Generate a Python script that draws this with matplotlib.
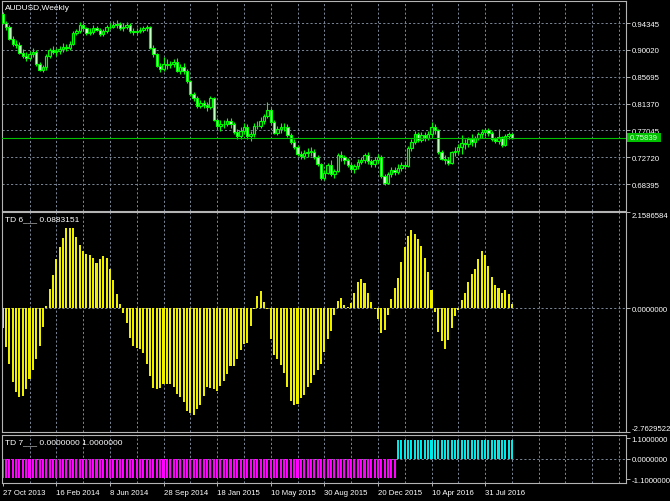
import matplotlib
matplotlib.use('Agg')
import matplotlib.pyplot as plt
from matplotlib.patches import Rectangle
import numpy as np

# ---------------- DATA ----------------
symbol_title = "AUDUSD,Weekly"
opens = [0.958,0.944,0.937,0.918,0.910,0.908,0.896,0.891,0.887,0.893,
         0.897,0.877,0.868,0.872,0.891,0.900,0.897,0.898,0.902,0.905,
         0.903,0.910,0.928,0.930,0.940,0.935,0.928,0.929,0.936,0.933,
         0.926,0.930,0.937,0.938,0.941,0.942,0.935,0.938,0.941,0.930,
         0.929,0.931,0.933,0.935,0.937,0.904,0.893,0.875,0.870,0.878,
         0.876,0.877,0.881,0.867,0.872,0.866,0.850,0.829,0.822,0.810,
         0.814,0.812,0.808,0.822,0.788,0.777,0.780,0.781,0.786,0.780,
         0.768,0.762,0.770,0.776,0.761,0.764,0.778,0.777,0.786,0.793,
         0.804,0.784,0.767,0.772,0.776,0.776,0.763,0.752,0.744,0.733,
         0.729,0.734,0.736,0.736,0.728,0.716,0.693,0.702,0.715,0.700,
         0.705,0.731,0.727,0.722,0.715,0.709,0.713,0.720,0.723,0.730,
         0.721,0.716,0.722,0.728,0.697,0.686,0.700,0.707,0.703,0.710,
         0.714,0.713,0.742,0.752,0.765,0.755,0.763,0.759,0.765,0.776,
         0.771,0.735,0.725,0.722,0.718,0.735,0.737,0.744,0.750,0.748,
         0.756,0.752,0.759,0.764,0.768,0.771,0.766,0.757,0.753,0.760,
         0.747,0.762,0.765]
highs = [0.961,0.947,0.941,0.922,0.916,0.913,0.901,0.897,0.898,0.903,
         0.900,0.881,0.876,0.893,0.904,0.906,0.903,0.907,0.911,0.910,
         0.914,0.930,0.934,0.946,0.944,0.938,0.935,0.940,0.939,0.936,
         0.934,0.940,0.944,0.947,0.948,0.946,0.943,0.946,0.944,0.935,
         0.936,0.937,0.939,0.941,0.939,0.908,0.896,0.879,0.889,0.885,
         0.882,0.886,0.888,0.877,0.879,0.869,0.852,0.833,0.826,0.820,
         0.819,0.817,0.826,0.825,0.791,0.788,0.787,0.791,0.790,0.784,
         0.772,0.776,0.783,0.780,0.769,0.783,0.786,0.792,0.797,0.816,
         0.806,0.787,0.778,0.782,0.783,0.781,0.766,0.756,0.747,0.738,
         0.739,0.742,0.743,0.741,0.731,0.718,0.706,0.718,0.722,0.708,
         0.734,0.737,0.731,0.726,0.718,0.716,0.724,0.728,0.734,0.736,
         0.725,0.727,0.733,0.730,0.700,0.704,0.712,0.712,0.716,0.720,
         0.721,0.746,0.756,0.770,0.768,0.768,0.768,0.770,0.784,0.781,
         0.773,0.739,0.730,0.727,0.738,0.744,0.749,0.763,0.756,0.760,
         0.764,0.762,0.768,0.772,0.775,0.774,0.770,0.760,0.773,0.762,
         0.765,0.768,0.767]
lows = [0.942,0.932,0.916,0.907,0.903,0.894,0.887,0.882,0.884,0.889,
        0.875,0.866,0.864,0.868,0.888,0.893,0.890,0.893,0.897,0.899,
        0.900,0.908,0.924,0.928,0.931,0.925,0.924,0.926,0.930,0.922,
        0.922,0.927,0.934,0.935,0.936,0.932,0.931,0.934,0.927,0.925,
        0.926,0.927,0.929,0.930,0.902,0.889,0.872,0.865,0.866,0.870,
        0.871,0.873,0.864,0.862,0.862,0.847,0.826,0.818,0.806,0.806,
        0.807,0.802,0.805,0.785,0.773,0.770,0.774,0.777,0.775,0.765,
        0.756,0.757,0.765,0.757,0.753,0.760,0.772,0.774,0.781,0.790,
        0.780,0.764,0.763,0.767,0.770,0.760,0.748,0.740,0.729,0.724,
        0.725,0.727,0.729,0.724,0.713,0.690,0.690,0.700,0.697,0.694,
        0.703,0.721,0.716,0.711,0.704,0.701,0.708,0.716,0.718,0.717,
        0.711,0.712,0.718,0.694,0.683,0.684,0.696,0.699,0.700,0.705,
        0.709,0.711,0.738,0.748,0.751,0.752,0.753,0.755,0.760,0.764,
        0.732,0.722,0.717,0.714,0.716,0.729,0.733,0.733,0.741,0.744,
        0.746,0.744,0.755,0.759,0.761,0.761,0.753,0.750,0.749,0.744,
        0.745,0.756,0.756]
closes = [0.944,0.937,0.918,0.910,0.908,0.896,0.891,0.887,0.893,0.897,
          0.877,0.868,0.872,0.891,0.900,0.897,0.898,0.902,0.905,0.903,
          0.910,0.928,0.930,0.940,0.935,0.928,0.929,0.936,0.933,0.926,
          0.930,0.937,0.938,0.941,0.942,0.935,0.938,0.941,0.930,0.929,
          0.931,0.933,0.935,0.937,0.904,0.893,0.875,0.870,0.878,0.876,
          0.877,0.881,0.867,0.872,0.866,0.850,0.829,0.822,0.810,0.814,
          0.812,0.808,0.822,0.788,0.777,0.780,0.781,0.786,0.780,0.768,
          0.762,0.770,0.776,0.761,0.764,0.778,0.777,0.786,0.793,0.804,
          0.784,0.767,0.772,0.776,0.776,0.763,0.752,0.744,0.733,0.729,
          0.734,0.736,0.736,0.728,0.716,0.693,0.702,0.715,0.700,0.705,
          0.731,0.727,0.722,0.715,0.709,0.713,0.720,0.723,0.730,0.721,
          0.716,0.722,0.728,0.697,0.686,0.700,0.707,0.703,0.710,0.714,
          0.713,0.742,0.752,0.765,0.755,0.763,0.759,0.765,0.776,0.771,
          0.735,0.725,0.722,0.718,0.735,0.737,0.744,0.750,0.748,0.756,
          0.752,0.759,0.764,0.768,0.771,0.766,0.757,0.753,0.760,0.747,
          0.762,0.765,0.75839]
bid_price = 0.75839
price_ticks = [0.94345, 0.90020, 0.85695, 0.81370, 0.77045, 0.72720, 0.68395]

td6_values = [-0.44,-0.87,-1.25,-1.64,-1.88,-1.98,-1.97,-1.81,-1.59,-1.37,
              -1.13,-0.84,-0.43,0.04,0.42,0.75,1.09,1.36,1.57,1.78,
              1.78,1.80,1.59,1.42,1.28,1.22,1.19,1.11,1.02,1.10,
              1.17,1.13,0.87,0.63,0.31,0.10,-0.11,-0.33,-0.67,-0.84,
              -0.88,-0.91,-0.99,-1.24,-1.51,-1.79,-1.81,-1.78,-1.69,-1.69,
              -1.69,-1.75,-1.92,-1.98,-2.09,-2.29,-2.34,-2.39,-2.26,-2.15,
              -1.95,-1.75,-1.78,-1.81,-1.85,-1.73,-1.63,-1.47,-1.28,-1.28,
              -1.13,-0.93,-0.80,-0.77,-0.40,-0.02,0.27,0.39,0.13,-0.01,
              -0.69,-1.05,-1.14,-1.26,-1.45,-1.75,-2.07,-2.17,-2.13,-2.01,
              -1.94,-1.75,-1.66,-1.50,-1.37,-1.24,-0.97,-0.69,-0.50,-0.16,
              0.17,0.22,0.08,0.02,0.11,0.33,0.58,0.65,0.56,0.33,
              0.13,-0.01,-0.25,-0.55,-0.48,-0.16,0.20,0.46,0.68,1.04,
              1.36,1.62,1.74,1.65,1.55,1.38,1.13,0.80,0.40,-0.08,
              -0.52,-0.74,-0.90,-0.71,-0.44,-0.17,-0.04,0.18,0.34,0.58,
              0.77,0.87,1.09,1.27,1.19,0.94,0.70,0.52,0.45,0.34,
              0.40,0.31,0.0883151]
td6_label = "TD 6___ 0.0883151"
td6_ticks = [2.1586584, 0.0, -2.7629522]
td6_tick_labels = ["2.1586584", "0.0000000", "-2.7629522"]

# TD 7: run-length encoded (value, number of weekly bars)
td7_runs = [(-1.0, 118), (1.0, 35)]
td7_label = "TD 7___ 0.0000000 1.0000000"
td7_ticks = [1.1, 0.0, -1.1]
td7_tick_labels = ["1.1000000", "0.0000000", "-1.1000000"]

date_labels = ["27 Oct 2013", "16 Feb 2014", "8 Jun 2014", "28 Sep 2014",
               "18 Jan 2015", "10 May 2015", "30 Aug 2015", "20 Dec 2015",
               "10 Apr 2016", "31 Jul 2016"]
date_label_bars = [0, 16, 32, 48, 64, 80, 96, 112, 128, 144]
grid_every = 8

# ---------------- STYLE ----------------
W, H = 670, 502
BG = 'black'
GRID = '#7a8696'
FRAME = '#b4b4b4'
FONT = 'Liberation Sans'
FS = 5.6
plt.rcParams['font.family'] = [FONT, 'DejaVu Sans']

fig = plt.figure(figsize=(W / 100, H / 100), dpi=100, facecolor=BG)

def ax_at(x0, y0, x1, y1):
    a = fig.add_axes([x0 / W, 1 - y1 / H, (x1 - x0) / W, (y1 - y0) / H])
    a.set_facecolor(BG)
    for s in a.spines.values():
        s.set_color(FRAME)
        s.set_linewidth(0.8)
    return a

ax1 = ax_at(1.7, 2, 626, 211.5)
ax2 = ax_at(1.7, 212.5, 626, 433)
ax3 = ax_at(1.7, 435.5, 626, 484)

n = len(closes)
x = np.arange(n)
xlim = (-0.3, 186.06)
grid_x = np.arange(grid_every, xlim[1], grid_every)

for a in (ax1, ax2, ax3):
    a.set_xlim(*xlim)
    for gx in grid_x:
        a.axvline(gx, color=GRID, lw=0.7, ls=(0, (2.2, 2.2)), zorder=0)
    a.yaxis.tick_right()
    a.tick_params(axis='y', direction='out', length=3, width=0.7,
                  colors=FRAME, labelcolor='white', labelsize=FS, pad=1.2)
    a.tick_params(axis='x', bottom=False, labelbottom=False)

# ---- price pane ----
o = np.array(opens); h = np.array(highs); l = np.array(lows); c = np.array(closes)
ax1.set_ylim(0.64126, 0.97919)
for p in price_ticks:
    ax1.axhline(p, color=GRID, lw=0.7, ls=(0, (2.2, 2.2)), zorder=0)
ax1.vlines(x, l, h, color='#00ff00', lw=0.8, zorder=2)
bull = c >= o
body_lo = np.minimum(o, c)
body_h = np.maximum(np.abs(c - o), 0.0006)
ax1.bar(x[bull], body_h[bull], bottom=body_lo[bull], width=0.7,
        facecolor='#002a00', edgecolor='#00ff00', lw=0.8, zorder=3)
ax1.bar(x[~bull], body_h[~bull], bottom=body_lo[~bull], width=0.7,
        facecolor='#d8ffd8', edgecolor='#00ff00', lw=0.8, zorder=3)
ax1.axhline(bid_price, color='#00c000', lw=0.8, zorder=4)
ax1.set_yticks(price_ticks)
ax1.set_yticklabels([f"{p:.5f}" for p in price_ticks])

# ---- TD 6 pane ----
ax2.set_ylim(td6_ticks[2], td6_ticks[0])
ax2.axhline(0, color=GRID, lw=0.7, ls=(0, (2.2, 2.2)), zorder=0)
ax2.bar(x, td6_values, width=0.6, color='#eeee00', zorder=2)
ax2.set_yticks(td6_ticks)
ax2.set_yticklabels(td6_tick_labels)
lbls = ax2.get_yticklabels()
lbls[0].set_va('top')
lbls[2].set_va('bottom')

# ---- TD 7 pane ----
td7_values = np.concatenate([np.full(cnt, val) for val, cnt in td7_runs])
ax3.set_ylim(-1.29, 1.29)
ax3.axhline(0, color=GRID, lw=0.7, ls=(0, (2.2, 2.2)), zorder=0)
neg = td7_values < 0
ax3.bar(x[neg], td7_values[neg], width=0.6, color='#ff00ff', zorder=2)
ax3.bar(x[~neg], td7_values[~neg], width=0.6, color='#00e8e8', zorder=2)
ax3.set_yticks(td7_ticks)
ax3.set_yticklabels(td7_tick_labels)
ax3.set_xticks(date_label_bars)
ax3.set_xticklabels(date_labels)
ax3.tick_params(axis='x', bottom=True, labelbottom=True, direction='out',
                length=2.5, width=0.7, colors=FRAME, labelcolor='white',
                labelsize=FS, pad=1.5)
for t in ax3.get_xticklabels():
    t.set_ha('left')

# ---- texts ----
def ftext(px, py, s, **kw):
    fig.text(px / W, 1 - py / H, s, color='white', fontsize=FS + 0.4,
             va='center', ha='left', **kw)

ftext(5, 8, symbol_title)
ftext(5, 220, td6_label)
ftext(5, 443, td7_label)

# bid price box on the axis
y_bid = 2 + (0.97919 - bid_price) / (0.97919 - 0.64126) * (211.5 - 2)
fig.patches.append(Rectangle((627 / W, 1 - (y_bid + 4.5) / H), 34 / W, 9 / H,
                             transform=fig.transFigure, facecolor='#00c000',
                             edgecolor='none', zorder=5))
fig.text(644 / W, 1 - y_bid / H, f"{bid_price:.5f}", color='#d8ffd8',
         fontsize=FS, ha='center', va='center', zorder=6)

fig.savefig('out.png', dpi=100, facecolor=BG)
